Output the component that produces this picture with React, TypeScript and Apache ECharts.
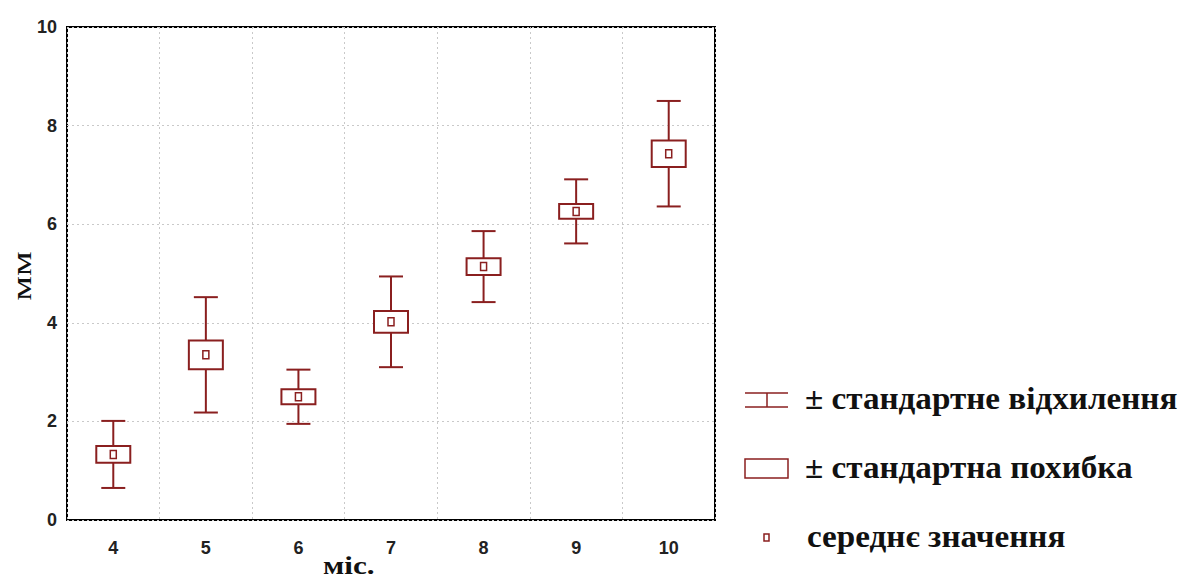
import React, { useEffect, useRef } from "react";
import * as echarts from "echarts";

// Months of age
const months = ["4", "5", "6", "7", "8", "9", "10"];
// Mean value per month, mm
const means = [1.33, 3.35, 2.5, 4.02, 5.14, 6.26, 7.43];
// Standard deviation per month, mm
const stdDev = [0.68, 1.17, 0.55, 0.92, 0.72, 0.65, 1.07];
// Standard error per month, mm
const stdErr = [0.17, 0.29, 0.15, 0.22, 0.17, 0.15, 0.27];

const yTicks = [0, 2, 4, 6, 8, 10];

const legendLabels = [
  "± стандартне відхилення",
  "± стандартна похибка",
  "середнє значення",
];

const RED = "#8a1f1f";
const SERIF = "'Liberation Serif', 'Times New Roman', serif";
const SANS = "'Liberation Sans', Arial, sans-serif";

export default function App() {
  const ref = useRef<HTMLDivElement>(null);

  useEffect(() => {
    if (!ref.current) return;
    const chart = echarts.init(ref.current, null, { renderer: "svg" });

    const data = months.map((_, i) => [i, means[i], stdDev[i], stdErr[i]]);

    const renderItem = (params: any, api: any) => {
      const idx = api.value(0);
      const m = api.value(1);
      const sd = api.value(2);
      const se = api.value(3);
      const top = api.coord([idx, m + sd]);
      const bot = api.coord([idx, m - sd]);
      const boxTop = api.coord([idx, m + se]);
      const boxBot = api.coord([idx, m - se]);
      const mid = api.coord([idx, m]);
      const x = mid[0];
      const capW = 24;
      const boxW = 34;
      const ls = { stroke: RED, lineWidth: 2, fill: null };
      return {
        type: "group",
        children: [
          { type: "line", shape: { x1: x, y1: top[1], x2: x, y2: bot[1] }, style: ls },
          { type: "line", shape: { x1: x - capW / 2, y1: top[1], x2: x + capW / 2, y2: top[1] }, style: ls },
          { type: "line", shape: { x1: x - capW / 2, y1: bot[1], x2: x + capW / 2, y2: bot[1] }, style: ls },
          {
            type: "rect",
            shape: { x: x - boxW / 2, y: boxTop[1], width: boxW, height: boxBot[1] - boxTop[1] },
            style: { stroke: RED, lineWidth: 2, fill: "#fff" },
          },
          {
            type: "rect",
            shape: { x: x - 3, y: mid[1] - 4, width: 6, height: 8 },
            style: { stroke: RED, lineWidth: 1.5, fill: "#fff" },
          },
        ],
      };
    };

    const legendFont = "bold 31px " + SERIF;
    const legendText = (i: number, x: number, y: number) => ({
      type: "text",
      x,
      y,
      scaleX: 1.07,
      style: { text: legendLabels[i], font: legendFont, fill: "#111", textVerticalAlign: "middle" },
    });

    chart.setOption({
      animation: false,
      backgroundColor: "#fff",
      grid: {
        left: 67,
        right: 469,
        top: 27,
        bottom: 61,
        show: true,
        borderColor: "#000",
        borderWidth: 2,
        backgroundColor: "transparent",
      },
      xAxis: {
        type: "category",
        data: months,
        boundaryGap: true,
        axisLine: { show: false },
        axisTick: { show: false },
        axisLabel: {
          margin: 19,
          fontFamily: SANS,
          fontWeight: "bold",
          fontSize: 18,
          color: "#222",
          interval: 0,
        },
        splitLine: {
          show: true,
          interval: 0,
          lineStyle: { color: "#c9c9c9", type: [2, 3], width: 1 },
        },
      },
      yAxis: {
        type: "value",
        min: 0,
        max: 10,
        interval: 2,
        axisLine: { show: false },
        axisTick: { show: false },
        axisLabel: {
          margin: 10,
          fontFamily: SANS,
          fontWeight: "bold",
          fontSize: 18,
          color: "#222",
          formatter: (v: number) => (yTicks.includes(v) ? String(v) : ""),
        },
        splitLine: {
          show: true,
          lineStyle: { color: "#c9c9c9", type: [2, 3], width: 1 },
        },
      },
      series: [
        {
          type: "custom",
          renderItem,
          data,
          encode: { x: 0, y: 1 },
          z: 10,
        },
      ],
      graphic: [
        // y-axis title
        {
          type: "text",
          x: 22,
          y: 276,
          rotation: Math.PI / 2,
          scaleX: 1.45,
          style: {
            text: "мм",
            font: "27px " + SERIF,
            fill: "#111",
            textAlign: "center",
            textVerticalAlign: "middle",
          },
        },
        // x-axis title
        {
          type: "text",
          x: 323,
          y: 565,
          scaleX: 1.2,
          style: {
            text: "міс.",
            font: "bold 26px " + SERIF,
            fill: "#111",
            textVerticalAlign: "middle",
          },
        },
        // Legend: standard deviation whisker
        { type: "line", shape: { x1: 745, y1: 393, x2: 788, y2: 393 }, style: { stroke: RED, lineWidth: 1.5 } },
        { type: "line", shape: { x1: 745, y1: 407, x2: 788, y2: 407 }, style: { stroke: RED, lineWidth: 1.5 } },
        { type: "line", shape: { x1: 767, y1: 393, x2: 767, y2: 407 }, style: { stroke: RED, lineWidth: 1.5 } },
        legendText(0, 805, 398),
        // Legend: standard error box
        {
          type: "rect",
          shape: { x: 745, y: 459, width: 43, height: 19 },
          style: { stroke: RED, lineWidth: 1.5, fill: "#fff" },
        },
        legendText(1, 805, 467),
        // Legend: mean marker
        {
          type: "rect",
          shape: { x: 764, y: 534, width: 5, height: 7 },
          style: { stroke: RED, lineWidth: 1.5, fill: "#fff" },
        },
        legendText(2, 807, 536),
      ],
    });

    return () => chart.dispose();
  }, []);

  return <div ref={ref} style={{ width: 1184, height: 581, position: "absolute", left: 0, top: 0 }} />;
}
